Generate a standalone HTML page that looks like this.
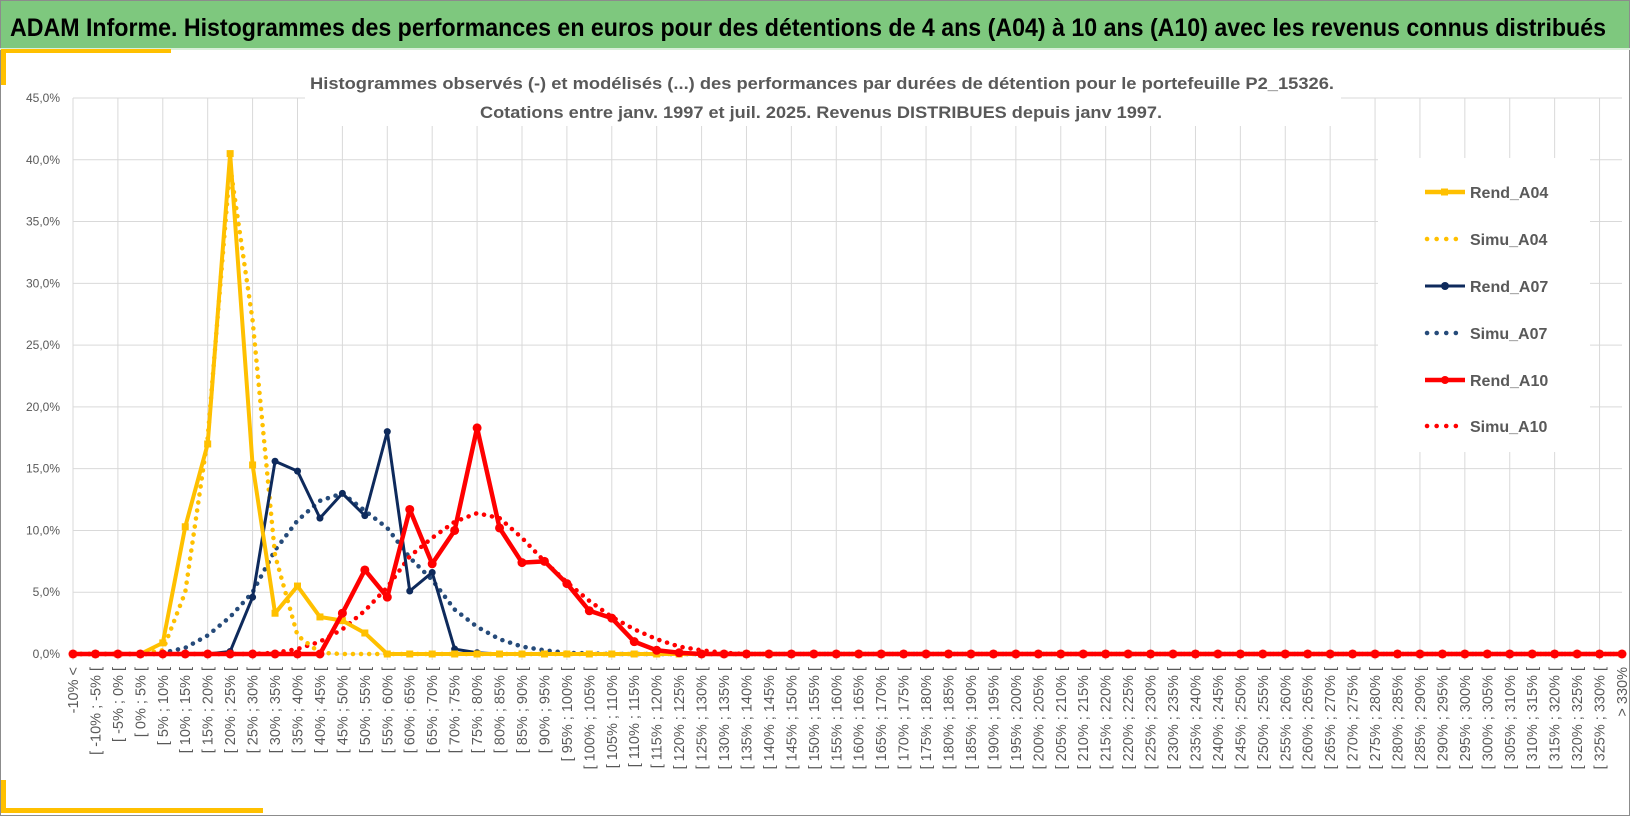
<!DOCTYPE html>
<html><head><meta charset="utf-8">
<style>
html,body{margin:0;padding:0;background:#fff;}
#wrap{position:relative;width:1630px;height:816px;overflow:hidden;font-family:"Liberation Sans",sans-serif;}
svg text{font-family:"Liberation Sans",sans-serif;}
</style></head>
<body>
<div id="wrap">
<svg id="chart" width="1630" height="816" viewBox="0 0 1630 816">
  <rect x="0.5" y="0.5" width="1629" height="815" fill="#fff" stroke="#8c8c8c"/>
  <rect x="1" y="1" width="1628" height="47" fill="#7ec87e"/>
  <line x1="0" y1="49" x2="1630" y2="49" stroke="#d8eed8" stroke-width="2"/>
  <text x="10" y="36" font-size="25" font-weight="bold" fill="#000" textLength="1596" lengthAdjust="spacingAndGlyphs">ADAM Informe. Histogrammes des performances en euros pour des détentions de 4 ans (A04) à 10 ans (A10) avec les revenus connus distribués</text>
  <rect x="1" y="49" width="170" height="4" fill="#ffc000"/>
  <rect x="1" y="49" width="5" height="36" fill="#ffc000"/>
  <rect x="1" y="808" width="262" height="5" fill="#ffc000"/>
  <rect x="1" y="780" width="5" height="33" fill="#ffc000"/>
  <g id="grid"></g>
  <rect x="305" y="64" width="1036" height="62" fill="#fff"/>
  <text x="822" y="89" font-size="17" font-weight="bold" fill="#595959" text-anchor="middle" textLength="1024" lengthAdjust="spacingAndGlyphs">Histogrammes observés (-) et modélisés (...) des performances par durées de détention pour le portefeuille P2_15326.</text>
  <text x="821" y="118" font-size="17" font-weight="bold" fill="#595959" text-anchor="middle" textLength="682" lengthAdjust="spacingAndGlyphs">Cotations entre janv. 1997 et juil. 2025. Revenus DISTRIBUES depuis janv 1997.</text>
  <g id="yticks"></g>
  <g id="xticks"></g>
  <g id="series"></g>
  <g id="legend"></g>
</svg>
</div>
<script>
const categories = (function(){ const c=["-10% <"]; for(let a=-10;a<330;a+=5){c.push("[ "+a+"% ; "+(a+5)+"% ["); } c.push("> 330%"); return c; })();
const yTicks = [0,5,10,15,20,25,30,35,40,45];
const rendA04 = [0,0,0,0,0.9,10.3,17.0,40.5,15.3,3.3,5.5,3.0,2.7,1.7,0];
const simuA04 = [0,0,0,0,0.3,5,17.5,39.5,27,8,1.5,0.1,0,0];
const rendA07 = [0,0,0,0,0,0,0,0.2,4.6,15.6,14.8,11.0,13.0,11.2,18.0,5.1,6.6,0.4,0.1,0];
const simuA07 = [0,0,0,0,0.1,0.5,1.5,3,5,8.4,10.8,12.4,13,11.6,10.2,7.8,6,3.6,2.2,1.2,0.6,0.3,0.1,0.05,0];
const rendA10 = [0,0,0,0,0,0,0,0,0,0,0,0,3.3,6.8,4.6,11.7,7.3,10.0,18.3,10.2,7.4,7.5,5.7,3.5,2.9,1.0,0.3,0.1,0];
const simuA10 = [0,0,0,0,0,0,0,0,0,0.1,0.4,1.0,2.0,3.5,5.4,7.9,9.4,10.7,11.4,11.0,9.4,7.5,5.8,4.3,3.0,2.0,1.2,0.6,0.3,0.1,0];
const seriesNames = ["Rend_A04","Simu_A04","Rend_A07","Simu_A07","Rend_A10","Simu_A10"];

const NS="http://www.w3.org/2000/svg";
const X0=73, X1=1622, Y0=654, Y45=98;
const n=categories.length;
function xs(i){return X0+(X1-X0)*i/(n-1);}
function ys(v){return Y0-(Y0-Y45)*v/45;}
function mk(tag,attrs,parent){const e=document.createElementNS(NS,tag);for(const k in attrs)e.setAttribute(k,attrs[k]);parent.appendChild(e);return e;}
function full(arr){const out=[];for(let i=0;i<n;i++)out.push(i<arr.length?arr[i]:0);return out;}

const grid=document.getElementById('grid');
yTicks.forEach(t=>{
  const l=mk('line',{x1:X0,x2:X1,y1:ys(t),y2:ys(t),stroke:'#d9d9d9','stroke-width':1},grid);
  
  
});
for(let i=0;i<n;i+=2){
  const l=mk('line',{x1:xs(i),x2:xs(i),y1:Y45,y2:Y0+6,stroke:'#d9d9d9','stroke-width':1},grid);
  
  
}
const yt=document.getElementById('yticks');
yTicks.forEach(t=>{
  const e=mk('text',{x:60,y:ys(t)+4,'font-size':12,fill:'#595959','text-anchor':'end'},yt);
  e.textContent=t.toFixed(1).replace('.',',')+'%';
  
  
});
const xt=document.getElementById('xticks');
categories.forEach((c,i)=>{
  const x=xs(i)+5, y=667;
  const e=mk('text',{x:x,y:y,'font-size':14.5,fill:'#595959','text-anchor':'end',transform:'rotate(-90 '+x+' '+y+')'},xt);
  e.textContent=c;
  
  
});

const sg=document.getElementById('series');
function pts(arr){return full(arr).map((v,i)=>xs(i)+','+ys(v)).join(' ');}
function dotted(arr,color,name){
  const p=mk('polyline',{points:pts(arr),fill:'none',stroke:color,'stroke-width':4.5,'stroke-linecap':'round','stroke-dasharray':'0.1 8'},sg);
  
  
}
function solid(arr,color,w,marker,name){
  const p=mk('polyline',{points:pts(arr),fill:'none',stroke:color,'stroke-width':w,'stroke-linejoin':'round'},sg);
  
  
  full(arr).forEach((v,i)=>{
    let m;
    if(marker==='square'){m=mk('rect',{x:xs(i)-3.5,y:ys(v)-3.5,width:7,height:7,fill:color},sg);}
    else{m=mk('circle',{cx:xs(i),cy:ys(v),r:marker==='big'?4.5:3.5,fill:color},sg);}
    
    
  });
}
dotted(simuA07,'#264b7a','simu-a07-line');
dotted(simuA10,'#ff0000','simu-a10-line');
dotted(simuA04,'#ffc000','simu-a04-line');
solid(rendA07,'#0e2a5c',3,'circle','rend-a07-line');
solid(rendA04,'#ffc000',4,'square','rend-a04-line');
solid(rendA10,'#ff0000',4.5,'big','rend-a10-line');

const lg=document.getElementById('legend');
const lbox=mk('rect',{x:1378,y:158,width:212,height:294,fill:'#fff'},lg);


const lcol=['#ffc000','#ffc000','#0e2a5c','#264b7a','#ff0000','#ff0000'];
const ly=[192,239,286,333,380,426];
seriesNames.forEach((s,k)=>{
  const g=mk('g',{},lg);
  
  
  const y=ly[k];
  if(k%2===0){
    mk('line',{x1:1425,x2:1465,y1:y,y2:y,stroke:lcol[k],'stroke-width':k===2?3:4.5},g);
    if(k===0) mk('rect',{x:1441,y:y-3.5,width:7,height:7,fill:lcol[k]},g);
    else mk('circle',{cx:1445,cy:y,r:4,fill:lcol[k]},g);
  } else {
    mk('line',{x1:1427,x2:1460,y1:y,y2:y,stroke:lcol[k],'stroke-width':4.5,'stroke-linecap':'round','stroke-dasharray':'0.1 9.5'},g);
  }
  const t=mk('text',{x:1470,y:y+6,'font-size':16,'font-weight':'bold',fill:'#595959'},g);
  t.textContent=s;
});
</script>
</body></html>
